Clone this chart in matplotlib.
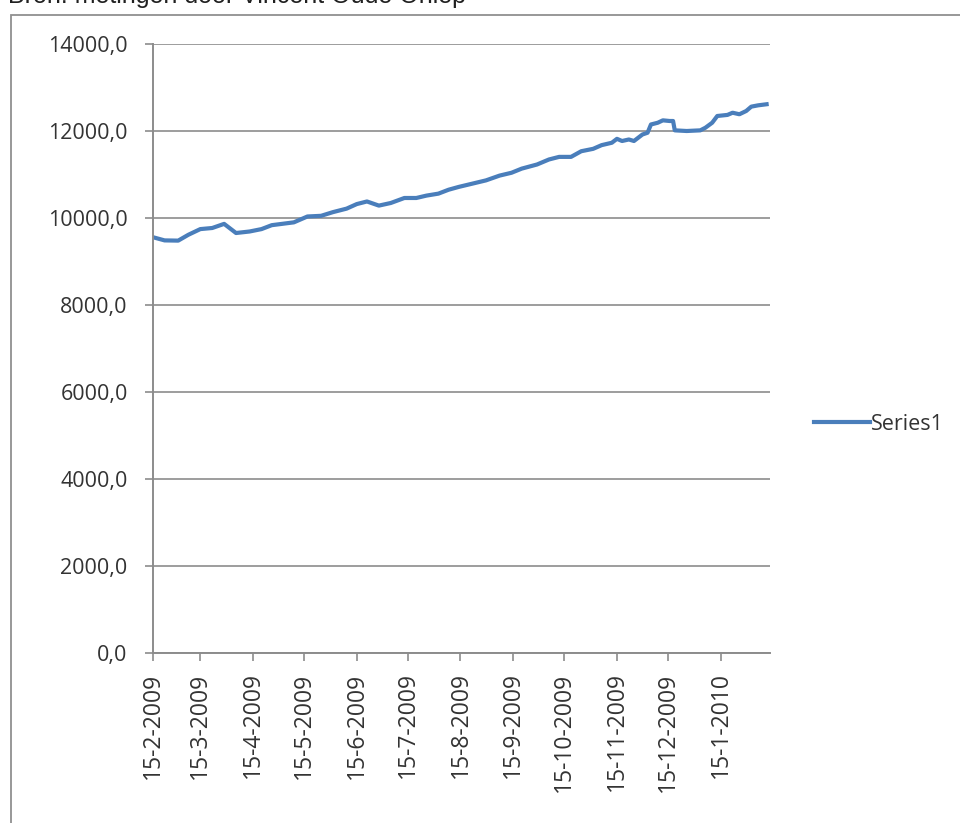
import matplotlib
matplotlib.use("Agg")
import matplotlib.pyplot as plt
from matplotlib.patches import Rectangle
from datetime import datetime

DATES = ["15-2-2009", "22-2-2009", "2-3-2009", "8-3-2009", "15-3-2009", "22-3-2009",
         "29-3-2009", "5-4-2009", "13-4-2009", "20-4-2009", "26-4-2009", "2-5-2009",
         "9-5-2009", "17-5-2009", "25-5-2009", "1-6-2009", "9-6-2009", "15-6-2009",
         "21-6-2009", "28-6-2009", "5-7-2009", "13-7-2009", "20-7-2009", "26-7-2009",
         "2-8-2009", "8-8-2009", "14-8-2009", "22-8-2009", "30-8-2009", "7-9-2009",
         "14-9-2009", "20-9-2009", "29-9-2009", "6-10-2009", "12-10-2009", "19-10-2009",
         "25-10-2009", "1-11-2009", "6-11-2009", "12-11-2009", "15-11-2009", "18-11-2009",
         "22-11-2009", "25-11-2009", "30-11-2009", "3-12-2009", "5-12-2009", "9-12-2009",
         "12-12-2009", "16-12-2009", "18-12-2009", "19-12-2009", "26-12-2009", "3-1-2010",
         "6-1-2010", "10-1-2010", "13-1-2010", "19-1-2010", "22-1-2010", "26-1-2010",
         "30-1-2010", "2-2-2010", "6-2-2010", "11-2-2010"]
VALUES = [9560, 9485, 9480, 9615, 9745, 9770, 9865, 9655, 9690, 9745, 9835, 9865,
          9900, 10035, 10050, 10135, 10215, 10320, 10380, 10285, 10345, 10460, 10460, 10515,
          10560, 10650, 10715, 10790, 10865, 10975, 11040, 11135, 11230, 11345, 11405, 11405,
          11535, 11590, 11675, 11730, 11820, 11770, 11805, 11770, 11920, 11960, 12150, 12190,
          12245, 12230, 12230, 12015, 12000, 12015, 12075, 12190, 12345, 12370, 12420, 12385,
          12460, 12560, 12590, 12615]
TICK_DATES = ["15-2-2009", "15-3-2009", "15-4-2009", "15-5-2009", "15-6-2009", "15-7-2009",
              "15-8-2009", "15-9-2009", "15-10-2009", "15-11-2009", "15-12-2009", "15-1-2010"]
Y_TICKS = [0, 2000, 4000, 6000, 8000, 10000, 12000, 14000]
SOURCE = "Bron: metingen door Vincent Oude Onlep"
SERIES = "Series1"


def parse(s):
    return datetime.strptime(s, "%d-%m-%Y")


plt.rcParams["font.family"] = ["Open Sans", "DejaVu Sans"]
ink = "#333333"
grid = "#8c8c8c"

fig = plt.figure(figsize=(9.6, 8.23), dpi=100)
fig.patch.set_facecolor("white")
fig.patches.append(Rectangle((11 / 960, -0.1), 1.1, 1 - 15 / 823 + 0.1,
                             transform=fig.transFigure, fill=False,
                             edgecolor="#909090", lw=1.3))
fig.text(8 / 960, 1 + 4 / 823, SOURCE, fontsize=18, color="#202020",
         family=["Liberation Sans", "DejaVu Sans"], ha="left", va="center")

ax = fig.add_axes([152.7 / 960, 1 - 653 / 823, (770 - 152.7) / 960, (653 - 44) / 823])
xs = [parse(d) for d in DATES]
ax.plot(xs, VALUES, color="#4a7ebb", lw=3.0, label=SERIES, solid_joinstyle="round")

ax.set_ylim(0, 14000)
ax.set_xlim(parse("15-2-2009"), parse("13-2-2010"))
ax.set_yticks(Y_TICKS, [f"{v:.1f}".replace(".", ",") for v in Y_TICKS])
ticks = [parse(d) for d in TICK_DATES]
ax.set_xticks(ticks, TICK_DATES, rotation=90)
ax.yaxis.grid(True, color=grid, lw=1.2)
ax.set_axisbelow(True)
for side in ("top", "right"):
    ax.spines[side].set_visible(False)
for side in ("left", "bottom"):
    ax.spines[side].set_color(grid)
    ax.spines[side].set_linewidth(1.4)
ax.tick_params(axis="both", colors=grid, length=6, width=1.2, labelsize=15.5,
               labelcolor=ink)
ax.tick_params(axis="x", labelsize=16.5, pad=8)
ax.tick_params(axis="y", pad=12)

ax.legend(loc="center left", bbox_to_anchor=(1.04, 0.376), frameon=False,
          fontsize=15.5, handlelength=2.6, handletextpad=0.05, labelcolor=ink)

fig.savefig("out.png", dpi=100)
